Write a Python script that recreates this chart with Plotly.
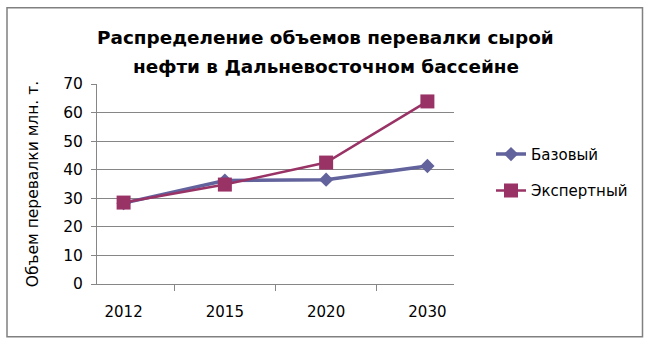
import plotly.graph_objects as go

years = ["2012", "2015", "2020", "2030"]
base = [28.3, 36.2, 36.5, 41.3]
expert = [28.5, 34.8, 42.5, 63.9]
series_names = ["Базовый", "Экспертный"]
title_lines = ["Распределение объемов перевалки сырой", "нефти в Дальневосточном бассейне"]
y_title = "Объем перевалки млн. т."

W, H = 653, 345
L, R, T, B = 97, 454, 83.5, 284

def px_to_paper_x(px):
    return (px - L) / (R - L)

def px_to_paper_y(py):
    return (B - py) / (B - T)

fig = go.Figure()
fig.add_trace(go.Scatter(
    x=years, y=base, name=series_names[0], mode="lines+markers",
    line=dict(color="#62629C", width=3.5),
    marker=dict(symbol="diamond", size=11, color="#62629C"),
    legendgroup="a",
))
fig.add_trace(go.Scatter(
    x=years, y=expert, name=series_names[1], mode="lines+markers",
    line=dict(color="#993366", width=2.5),
    marker=dict(symbol="square", size=14, color="#993366"),
    legendgroup="b",
))

font = "DejaVu Sans"
fig.update_layout(
    width=W, height=H,
    margin=dict(l=L, r=W - R, t=T, b=H - B, pad=0, autoexpand=False),
    plot_bgcolor="white", paper_bgcolor="white",
    showlegend=True,
    legend=dict(
        x=px_to_paper_x(491), y=px_to_paper_y(172), xanchor="left", yanchor="middle",
        font=dict(family=font, size=15, color="black"),
        traceorder="grouped", tracegroupgap=14,
        bgcolor="rgba(0,0,0,0)",
    ),
    xaxis=dict(
        type="category", tickson="boundaries", ticks="outside", ticklen=6,
        tickcolor="#868686", showline=True, linecolor="#868686", linewidth=1,
        showgrid=False, tickfont=dict(family=font, size=15, color="black"),
        ticklabelstandoff=14, automargin=False,
    ),
    yaxis=dict(
        range=[0, 70], dtick=10, ticks="outside", ticklen=5, tickcolor="#868686",
        showline=True, linecolor="#868686", linewidth=1,
        showgrid=True, gridcolor="#868686", gridwidth=1,
        tickfont=dict(family=font, size=15.5, color="black"),
        ticklabelstandoff=5,
        title=dict(text=y_title, font=dict(family=font, size=15.5, color="black"), standoff=20),
        zeroline=False, automargin=False,
    ),
)

for i, (txt, py) in enumerate(zip(title_lines, [37, 66])):
    fig.add_annotation(
        text="<b>" + txt + "</b>", xref="paper", yref="paper",
        x=px_to_paper_x(325.5), y=px_to_paper_y(py), xanchor="center", yanchor="middle",
        showarrow=False, font=dict(family=font, size=18.4, color="black"),
    )

fig.add_shape(
    type="rect", xref="paper", yref="paper",
    x0=px_to_paper_x(7), x1=px_to_paper_x(642.5),
    y0=px_to_paper_y(337), y1=px_to_paper_y(7),
    line=dict(color="#808080", width=1.5), layer="below",
)

fig.write_html("out.html", config={"displayModeBar": False},
               post_script="document.body.style.margin='0';")
